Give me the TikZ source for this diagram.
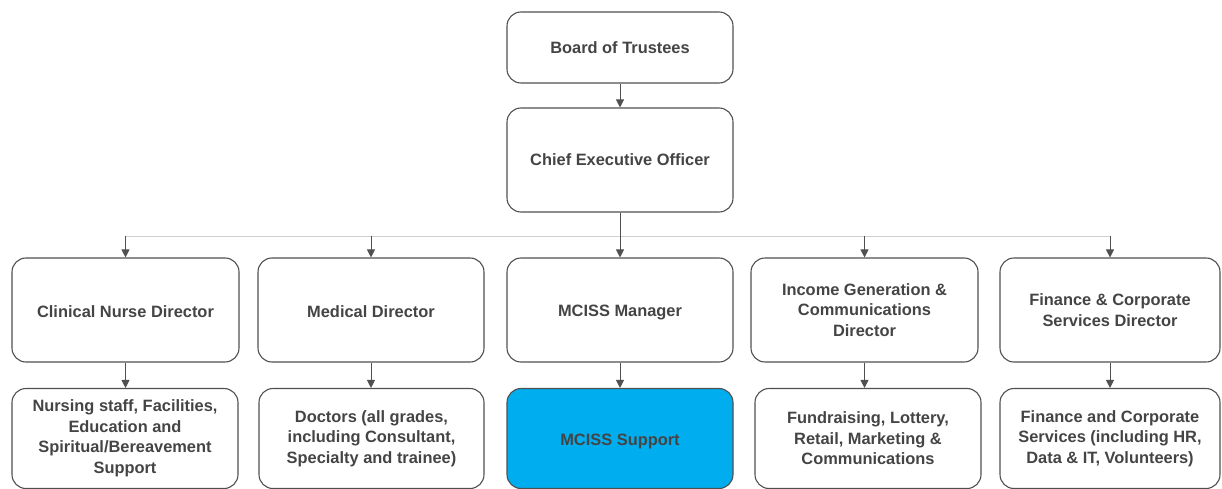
\documentclass[tikz,border=0pt]{standalone}
\usepackage{fontspec}
\setmainfont{Liberation Sans}
\usetikzlibrary{arrows.meta}

\definecolor{boxline}{HTML}{505050}
\definecolor{boxtext}{HTML}{444444}
\definecolor{busline}{HTML}{CFCFCF}
\definecolor{mcissblue}{HTML}{00ADEE}

\begin{document}
\begin{tikzpicture}[x=1pt, y=-1pt,
  every node/.style={font=\fontsize{16.4}{20.5}\selectfont\bfseries, text=boxtext},
  orgbox/.style={draw=boxline, line width=1.1pt, rounded corners=14pt, align=center,
                 inner sep=0pt, minimum height=104pt},
  lowered/.style={execute at begin node=\rule{0pt}{#1}},
  dirbox/.style={orgbox, lowered=16pt},
  leafbox/.style={orgbox, minimum height=100pt},
  arr/.style={-{Triangle[length=8pt,width=8pt]}, boxline, line width=0.8pt},
  bus/.style={busline, line width=1pt}]

\useasboundingbox (0,0) rectangle (1222,489);

% --------- Top of the chart ----------
\node[orgbox, minimum width=226pt, minimum height=71pt] (board) at (620,47.5) {Board of Trustees};
\node[orgbox, minimum width=226pt] (ceo) at (620,160) {Chief Executive Officer};

% --------- Directors row ----------
\node[dirbox, minimum width=227pt] (clin) at (125.5,310) {Clinical Nurse Director};
\node[dirbox, minimum width=226pt] (med)  at (371,310)   {Medical Director};
\node[dirbox, minimum width=226pt] (mgr)  at (620,310)   {MCISS Manager};
\node[dirbox, minimum width=227pt] (inc)  at (864.5,310) {Income Generation \&\\Communications\\Director};
\node[dirbox, minimum width=220pt] (fin)  at (1110,310)  {Finance \& Corporate\\Services Director};

% --------- Teams row ----------
\node[leafbox, minimum width=226pt] (nurse) at (125,438.5)  {Nursing staff, Facilities,\\Education and\\Spiritual/Bereavement\\Support};
\node[leafbox, minimum width=225pt] (doc)   at (371.5,438.5) {Doctors (all grades,\\including Consultant,\\Specialty and trainee)};
\node[leafbox, minimum width=226pt, fill=mcissblue, lowered=18pt] (sup) at (620,438.5) {MCISS Support};
\node[leafbox, minimum width=226pt] (fund)  at (868,438.5)  {Fundraising, Lottery,\\Retail, Marketing \&\\Communications};
\node[leafbox, minimum width=220pt] (corp)  at (1110,438.5) {Finance and Corporate\\Services (including HR,\\Data \& IT, Volunteers)};

% --------- Connectors ----------
\coordinate (busy) at (0,236);
\draw[arr] (board) -- (ceo);
\draw[bus] (clin.north |- busy) -- (fin.north |- busy);
\draw[boxline, line width=0.8pt] (ceo.south) -- (ceo.south |- busy);
\foreach \d in {clin,med,mgr,inc,fin}
  \draw[arr] (\d.north |- busy) -- (\d.north);
\foreach \a/\b in {clin/nurse,med/doc,mgr/sup,inc/fund,fin/corp}
  \draw[arr] (\a.south) -- (\a.south |- \b.north);

\end{tikzpicture}
\end{document}
